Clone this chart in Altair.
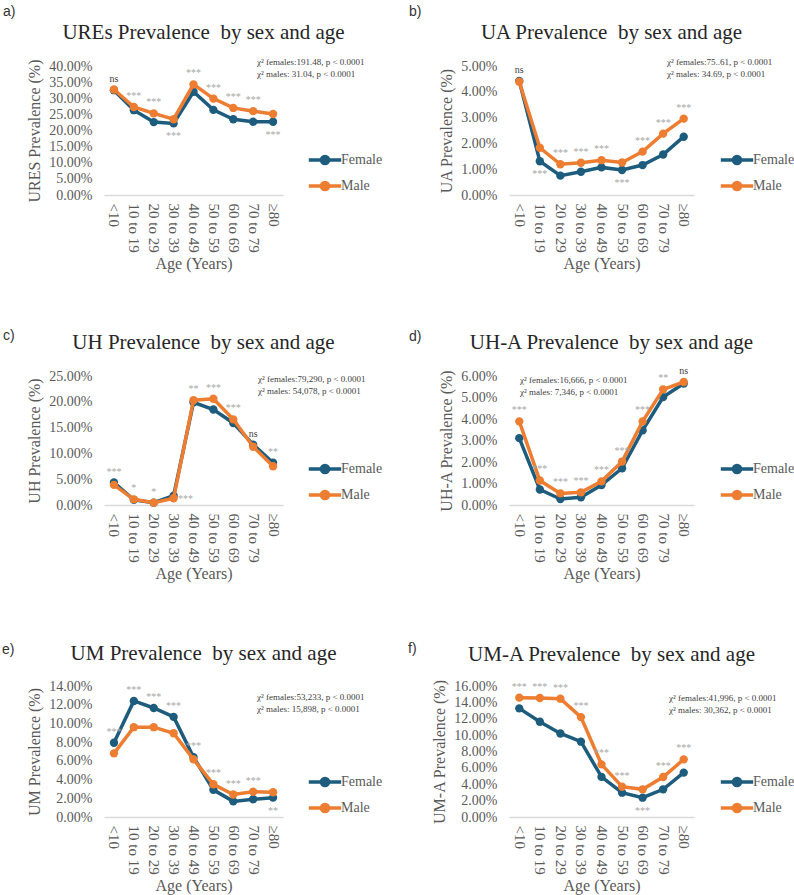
import altair as alt
import pandas as pd

# ---------------- data ----------------
AGES = ["<10", "10 to 19", "20 to 29", "30 to 39", "40 to 49",
        "50 to 59", "60 to 69", "70 to 79", "≥80"]
SEXES = ["Female", "Male"]

URES_F = [32.5, 26.3, 22.6, 22.2, 32.0, 26.4, 23.5, 22.7, 22.7]
URES_M = [32.7, 27.3, 25.3, 23.5, 34.3, 29.9, 27.0, 26.0, 25.1]
URES_SIG = ["ns", "***", "***", "***", "***", "***", "***", "***", "***"]
URES_POS = ["above", "above", "above", "below", "above", "above", "above", "above", "below"]

UA_F = [4.42, 1.31, 0.75, 0.90, 1.07, 0.97, 1.16, 1.57, 2.26]
UA_M = [4.39, 1.83, 1.19, 1.25, 1.35, 1.26, 1.68, 2.38, 2.96]
UA_SIG = ["ns", "***", "***", "***", "***", "***", "***", "***", "***"]
UA_POS = ["above", "below", "above", "above", "above", "below", "above", "above", "above"]

UH_F = [4.35, 1.0, 0.45, 1.8, 19.9, 18.5, 15.9, 11.7, 8.2]
UH_M = [3.9, 1.1, 0.45, 1.3, 20.3, 20.6, 16.6, 11.3, 7.5]
UH_SIG = ["***", "*", "*", "***", "**", "***", "***", "ns", "**"]
UH_POS = ["above", "above", "above", "right", "above", "above", "above", "above", "above"]

UHA_F = [3.11, 0.72, 0.28, 0.36, 0.93, 1.71, 3.47, 5.02, 5.65]
UHA_M = [3.89, 1.14, 0.54, 0.59, 1.10, 2.02, 3.89, 5.38, 5.72]
UHA_SIG = ["***", "***", "***", "***", "***", "***", "***", "**", "ns"]
UHA_POS = ["above"] * 9

UM_F = [7.94, 12.4, 11.65, 10.7, 6.4, 2.9, 1.67, 1.9, 2.07]
UM_M = [6.8, 9.6, 9.6, 8.95, 6.16, 3.5, 2.4, 2.7, 2.64]
UM_SIG = ["***", "***", "***", "***", "***", "***", "***", "***", "**"]
UM_POS = ["above", "above", "above", "above", "above", "above", "above", "above", "below"]

UMA_F = [13.27, 11.64, 10.2, 9.2, 4.9, 2.97, 2.36, 3.38, 5.42]
UMA_M = [14.58, 14.54, 14.45, 12.2, 6.43, 3.7, 3.38, 4.89, 7.04]
UMA_SIG = ["***"] * 9
UMA_POS = ["above", "above", "above", "above", "above", "above", "below", "above", "above"]

TITLES = ["UREs Prevalence\u00a0 by sex and age", "UA Prevalence\u00a0 by sex and age",
          "UH Prevalence\u00a0 by sex and age", "UH-A Prevalence\u00a0 by sex and age",
          "UM Prevalence\u00a0 by sex and age", "UM-A Prevalence\u00a0 by sex and age"]
Y_TITLES = ["URES Prevalence (%)", "UA Prevalence (%)", "UH Prevalence (%)",
            "UH-A Prevalence (%)", "UM Prevalence (%)", "UM-A Prevalence (%)"]
LETTERS = ["a)", "b)", "c)", "d)", "e)", "f)"]
CHI_F = ["χ² females:191.48, p < 0.0001", "χ² females:75..61, p < 0.0001",
         "χ² females:79,290, p < 0.0001", "χ² females:16,666, p < 0.0001",
         "χ² females:53,233, p < 0.0001", "χ² females:41,996, p < 0.0001"]
CHI_M = ["χ² males: 31.04, p < 0.0001", "χ² males: 34.69, p < 0.0001",
         "χ² males: 54,078, p < 0.0001", "χ² males: 7,346, p < 0.0001",
         "χ² males: 15,898, p < 0.0001", "χ² males: 30,362, p < 0.0001"]
Y_MAX = [40, 5, 25, 6, 14, 16]
Y_STEP = [5, 1, 5, 1, 2, 2]

FEMALE = [URES_F, UA_F, UH_F, UHA_F, UM_F, UMA_F]
MALE = [URES_M, UA_M, UH_M, UHA_M, UM_M, UMA_M]
SIG = [URES_SIG, UA_SIG, UH_SIG, UHA_SIG, UM_SIG, UMA_SIG]
POS = [URES_POS, UA_POS, UH_POS, UHA_POS, UM_POS, UMA_POS]

# ---------------- style / layout ----------------
FEMALE_COLOR = "#1d5c7d"
MALE_COLOR = "#ed7d31"
SERIF = "Liberation Serif"
SANS = "Liberation Sans"
GREY = "#595959"

PANEL_W = [179, 185, 179, 185, 179, 185]
PANEL_H = [129, 129, 129, 129, 131, 131]
LEGEND_XY = [(207, 80), (214, 80), (207, 79), (214, 79), (207, 82), (214, 82)]
LETTER_XY = [(-101, -50), (-100, -50), (-101, -36), (-100, -35), (-102, -32), (-101, -33)]
TITLE_Y = [-27, -27, -27, -27, -26, -25]
CHI_XY = [(153, -4), (158, -4), (154, 3), (11, 4), (153, 11), (160, 12)]
CHI_GAP = 11.7


def circle(r):
    return f"M{r},0A{r},{r} 0 1,1 {-r},0A{r},{r} 0 1,1 {r},0"


LEGEND_SYMBOL = "M-1.35,0L1.35,0" + circle(0.3) + circle(0.18) + circle(0.06)


def text_layer(txt, x, y, **style):
    return alt.Chart(pd.DataFrame({"label": [txt]})).mark_text(**style).encode(
        x=alt.value(x), y=alt.value(y), text="label:N")


def make_panel(i):
    female, male = FEMALE[i], MALE[i]
    long = pd.DataFrame({
        "age": AGES * 2,
        "sex": ["Female"] * len(AGES) + ["Male"] * len(AGES),
        "value": female + male,
        "order": list(range(len(AGES))) * 2,
    })
    ann = pd.DataFrame({
        "age": AGES, "sig": SIG[i], "pos": POS[i],
        "hi": [max(a, b) for a, b in zip(female, male)],
        "lo": [min(a, b) for a, b in zip(female, male)],
    })
    yscale = alt.Scale(domain=[0, Y_MAX[i]], nice=False, zero=True)
    yaxis = alt.Axis(values=list(range(0, Y_MAX[i] + 1, Y_STEP[i])),
                     labelExpr="format(datum.value, '.2f') + '%'",
                     title=Y_TITLES[i])
    x = alt.X("age:N", sort=AGES, scale=alt.Scale(type="point", padding=0.5),
              axis=alt.Axis(title="Age (Years)", labelAngle=90, labelAlign="left",
                            labelBaseline="middle", labelOverlap=False))

    def y(field):
        return alt.Y(f"{field}:Q", scale=yscale, axis=yaxis)

    cscale = alt.Scale(domain=SEXES, range=[FEMALE_COLOR, MALE_COLOR])
    lx, ly = LEGEND_XY[i]
    legend = alt.Legend(title=None, orient="none", legendX=lx, legendY=ly,
                        symbolType=LEGEND_SYMBOL, symbolSize=576, symbolStrokeWidth=3.5,
                        labelFont=SERIF, labelFontSize=14, labelColor=GREY,
                        labelOffset=2, rowPadding=1, padding=0)

    layers = []
    for sex in SEXES:
        base = alt.Chart(long).transform_filter(alt.datum.sex == sex)
        layers.append(base.mark_line(strokeWidth=3.5).encode(
            x=x, y=y("value"), order=alt.Order("order:Q"),
            color=alt.Color("sex:N", scale=cscale, legend=legend)))
        layers.append(base.mark_point(filled=True, size=70, opacity=1).encode(
            x=x, y=y("value"),
            color=alt.Color("sex:N", scale=cscale, legend=None)))

    sig_color = alt.when(alt.datum.sig == "ns").then(alt.value("#404040")).otherwise(alt.value("#a6a6a6"))
    placements = {"above": ("hi", 0, -8), "below": ("lo", 0, 16), "right": ("hi", 12, 6)}
    for pos, (field, dx, dy) in placements.items():
        if pos not in POS[i]:
            continue
        layers.append(alt.Chart(ann).transform_filter(alt.datum.pos == pos).mark_text(
            dx=dx, dy=dy, fontSize=10, font=SERIF, baseline="alphabetic").encode(
            x=x, y=y(field), text="sig:N", color=sig_color))

    cx, cy = CHI_XY[i]
    chi_style = dict(align="left", baseline="middle", font=SERIF, fontSize=9, color="#404040")
    layers.append(text_layer(CHI_F[i], cx, cy, **chi_style))
    layers.append(text_layer(CHI_M[i], cx, cy + CHI_GAP, **chi_style))

    layers.append(text_layer(TITLES[i], PANEL_W[i] / 2 + 10, TITLE_Y[i], align="center",
                             baseline="alphabetic", font=SERIF, fontSize=21, color="#262626"))

    lx2, ly2 = LETTER_XY[i]
    layers.append(text_layer(LETTERS[i], lx2, ly2, align="left", baseline="alphabetic",
                             font=SANS, fontSize=14, color="#333333"))

    return alt.layer(*layers).properties(width=PANEL_W[i], height=PANEL_H[i])


panels = [make_panel(i) for i in range(6)]

chart = alt.concat(
    *panels, columns=2, spacing={"row": 181, "column": 226}, bounds="flush", align="each"
).resolve_scale(
    color="independent", x="independent", y="independent"
).resolve_legend(
    color="independent"
).properties(
    autosize=alt.AutoSizeParams(type="none"),
    padding={"left": 104, "top": 66, "right": 690, "bottom": 829},
).configure_view(
    stroke=None
).configure_axis(
    grid=False, ticks=False, tickSize=0, labelFont=SERIF, titleFont=SERIF,
    labelColor=GREY, titleColor=GREY, titleFontWeight="normal"
).configure_axisX(
    domainColor="#d9d9d9", domainWidth=1.3, labelFontSize=15, labelPadding=8,
    titleFontSize=16, titlePadding=3
).configure_axisY(
    domain=False, labelFontSize=14, labelPadding=12, titleFontSize=16, titlePadding=6
)

chart.save("out.html", embed_options={"renderer": "svg", "actions": False})
